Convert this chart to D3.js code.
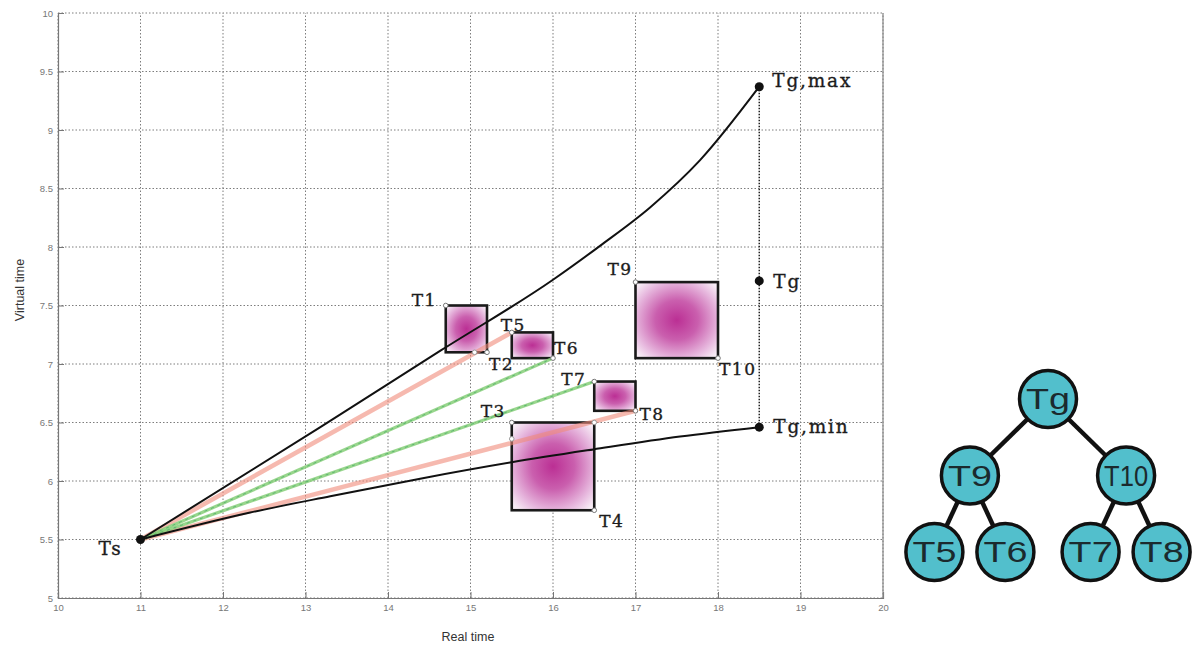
<!DOCTYPE html>
<html>
<head>
<meta charset="utf-8">
<script src="https://cdn.jsdelivr.net/npm/d3@7"></script>
<style>
  html, body { margin: 0; padding: 0; background: #ffffff; }
  svg { display: block; }
</style>
</head>
<body>
<svg id="chart" width="1195" height="648"></svg>
<script>
// ---- data ----
const xTicks = [10, 11, 12, 13, 14, 15, 16, 17, 18, 19, 20];
const yTicks = [5, 5.5, 6, 6.5, 7, 7.5, 8, 8.5, 9, 9.5, 10];
const yTickLabels = ["5", "5.5", "6", "6.5", "7", "7.5", "8", "8.5", "9", "9.5", "10"];

// upper bound trajectory Ts -> Tg,max and lower bound Ts -> Tg,min
const upperBound = [[11, 5.5], [13.18, 6.46], [14.65, 7.12], [16.0, 7.72], [16.57, 8.01], [17.18, 8.34], [17.78, 8.74], [18.5, 9.37]];
const lowerBound = [[11, 5.5], [12.33, 5.73], [13.3, 5.87], [14.39, 6.02], [15.5, 6.16], [16.49, 6.27], [17.54, 6.38], [18.5, 6.46]];

// task windows: [xMin, xMax, yMin, yMax]
const taskBoxes = [
  [14.7, 15.2, 7.1, 7.5],
  [15.5, 16.0, 7.05, 7.27],
  [16.5, 17.0, 6.6, 6.85],
  [15.5, 16.5, 5.75, 6.5],
  [17.0, 18.0, 7.05, 7.7]
];

// named corner points of the windows
const cornerNames = ["T1", "T2", "T5", "T6", "T7", "T8", "T3", "T4", "T9", "T10"];
const cornerX =     [14.7, 15.2, 15.5, 16.0, 16.5, 17.0, 15.5, 16.5, 17.0, 18.0];
const cornerY =     [7.5,  7.1,  7.27, 7.05, 6.85, 6.6,  6.5,  5.75, 7.7,  7.05];

// extra crossing markers on window edges
const crossX = [15.05, 15.5, 16.5];
const crossY = [7.1, 6.36, 6.5];

// start / goal points
const keyNames = ["Ts", "Tg,max", "Tg", "Tg,min"];
const keyX = [11, 18.5, 18.5, 18.5];
const keyY = [5.5, 9.37, 7.71, 6.46];

// rays from Ts to corners
const redTargets = ["T5", "T8"];
const greenTargets = ["T6", "T7"];

// schedule tree
const treeIds =     ["Tg", "T9", "T10", "T5", "T6", "T7", "T8"];
const treeParents = [null, "Tg", "Tg", "T9", "T9", "T10", "T10"];

// ---- drawing ----
const svg = d3.select("#chart");
const x = d3.scaleLinear().domain([10, 20]).range([58, 883]);
const y = d3.scaleLinear().domain([5, 10]).range([598, 13]);

// radial fill for the windows
const defs = svg.append("defs");
const grad = defs.append("radialGradient").attr("id", "winFill")
  .attr("cx", "50%").attr("cy", "50%").attr("r", "65%");
grad.append("stop").attr("offset", "0%").attr("stop-color", "#bb2f94");
grad.append("stop").attr("offset", "40%").attr("stop-color", "#ca5fae");
grad.append("stop").attr("offset", "80%").attr("stop-color", "#e8bce0");
grad.append("stop").attr("offset", "100%").attr("stop-color", "#f7ecf5");

const plot = svg.append("g");

// grid
plot.append("g").selectAll("line").data(xTicks).join("line")
  .attr("x1", d => x(d)).attr("x2", d => x(d))
  .attr("y1", y(5)).attr("y2", y(10))
  .attr("stroke", "#7d7d7d").attr("stroke-width", 1)
  .attr("stroke-dasharray", "1.5,2");
plot.append("g").selectAll("line").data(yTicks).join("line")
  .attr("x1", x(10)).attr("x2", x(20))
  .attr("y1", d => y(d)).attr("y2", d => y(d))
  .attr("stroke", "#7d7d7d").attr("stroke-width", 1)
  .attr("stroke-dasharray", "1.5,2");

// axes
const xAxis = d3.axisBottom(x).tickValues(xTicks).tickSize(-6).tickPadding(6).tickFormat(d3.format("d"));
const yAxis = d3.axisLeft(y).tickValues(yTicks).tickSize(-6).tickPadding(5).tickFormat((d, i) => yTickLabels[i]);
const gx = plot.append("g").attr("transform", `translate(0,${y(5)})`).call(xAxis);
const gy = plot.append("g").attr("transform", `translate(${x(10)},0)`).call(yAxis);
[gx, gy].forEach(g => {
  g.select(".domain").attr("stroke", "#777").attr("stroke-width", 1.2);
  g.selectAll(".tick line").attr("stroke", "#777");
  g.selectAll(".tick text").attr("fill", "#777").attr("font-size", 9.5)
    .attr("font-family", "Liberation Sans, Arial, sans-serif");
});
// right frame edge
plot.append("line").attr("x1", x(20)).attr("x2", x(20)).attr("y1", y(5)).attr("y2", y(10))
  .attr("stroke", "#888").attr("stroke-width", 1.2);

plot.append("text").attr("x", 468).attr("y", 641).attr("text-anchor", "middle")
  .attr("font-family", "Liberation Sans, Arial, sans-serif").attr("font-size", 12.5).attr("fill", "#333")
  .text("Real time");
plot.append("text").attr("transform", "translate(24,290) rotate(-90)").attr("text-anchor", "middle")
  .attr("font-family", "Liberation Sans, Arial, sans-serif").attr("font-size", 12.5).attr("fill", "#333")
  .text("Virtual time");

// windows
plot.append("g").selectAll("rect").data(taskBoxes).join("rect")
  .attr("x", d => x(d[0])).attr("y", d => y(d[3]))
  .attr("width", d => x(d[1]) - x(d[0])).attr("height", d => y(d[2]) - y(d[3]))
  .attr("fill", "url(#winFill)").attr("stroke", "#1a1a1a").attr("stroke-width", 2.6);

// rays from Ts
const corner = name => { const i = cornerNames.indexOf(name); return [cornerX[i], cornerY[i]]; };
const ray = plot.append("g");
redTargets.forEach(n => {
  const c = corner(n);
  ray.append("line").attr("x1", x(keyX[0])).attr("y1", y(keyY[0])).attr("x2", x(c[0])).attr("y2", y(c[1]))
    .attr("stroke", "#f08a7a").attr("stroke-width", 4.5).attr("stroke-opacity", 0.6).attr("stroke-linecap", "round");
});
greenTargets.forEach(n => {
  const c = corner(n);
  ray.append("line").attr("x1", x(keyX[0])).attr("y1", y(keyY[0])).attr("x2", x(c[0])).attr("y2", y(c[1]))
    .attr("stroke", "#86cf78").attr("stroke-width", 3.2).attr("stroke-opacity", 0.85);
  ray.append("line").attr("x1", x(keyX[0])).attr("y1", y(keyY[0])).attr("x2", x(c[0])).attr("y2", y(c[1]))
    .attr("stroke", "#2e9a5c").attr("stroke-width", 1).attr("stroke-dasharray", "3,4").attr("stroke-opacity", 0.55);
});

// bounds
const line = d3.line().x(d => x(d[0])).y(d => y(d[1])).curve(d3.curveMonotoneX);
plot.append("path").datum(upperBound).attr("d", line)
  .attr("fill", "none").attr("stroke", "#111").attr("stroke-width", 2);
plot.append("path").datum(lowerBound).attr("d", line)
  .attr("fill", "none").attr("stroke", "#111").attr("stroke-width", 2);

// dotted range at the goal
plot.append("line").attr("x1", x(keyX[1])).attr("x2", x(keyX[3]))
  .attr("y1", y(keyY[1])).attr("y2", y(keyY[3]))
  .attr("stroke", "#222").attr("stroke-width", 1.5).attr("stroke-dasharray", "1.5,1.5");

// corner markers
plot.append("g").selectAll("circle").data(cornerNames).join("circle")
  .attr("cx", (d, i) => x(cornerX[i])).attr("cy", (d, i) => y(cornerY[i])).attr("r", 2.3)
  .attr("fill", "#fff").attr("stroke", "#777").attr("stroke-width", 1);
plot.append("g").selectAll("circle").data(crossX).join("circle")
  .attr("cx", (d, i) => x(d)).attr("cy", (d, i) => y(crossY[i])).attr("r", 2.3)
  .attr("fill", "#fff").attr("stroke", "#999").attr("stroke-width", 1);

// key points
plot.append("g").selectAll("circle").data(keyNames).join("circle")
  .attr("cx", (d, i) => x(keyX[i])).attr("cy", (d, i) => y(keyY[i])).attr("r", 4.5)
  .attr("fill", "#111");

// labels (serif, placed around the marker they name)
const labelOffset = {
  T1: [-34, 0], T2: [2, 18], T5: [-11, -1], T6: [1, -4], T7: [-33, 3], T8: [4, 9],
  T3: [-31, -6], T4: [5, 17], T9: [-28, -7], T10: [1, 17],
  "Ts": [-42, 15], "Tg,max": [13, 0], "Tg": [14, 7], "Tg,min": [14, 6]
};
const labels = plot.append("g")
  .attr("font-family", "DejaVu Serif, Liberation Serif, serif")
  .attr("fill", "#1c1c1c").attr("stroke", "#1c1c1c").attr("stroke-width", 0.35);
cornerNames.forEach((n, i) => {
  const o = labelOffset[n];
  labels.append("text").attr("x", x(cornerX[i]) + o[0]).attr("y", y(cornerY[i]) + o[1])
    .attr("font-size", 17).attr("letter-spacing", 1.5).text(n);
});
keyNames.forEach((n, i) => {
  const o = labelOffset[n];
  labels.append("text").attr("x", x(keyX[i]) + o[0]).attr("y", y(keyY[i]) + o[1])
    .attr("font-size", 18.5).attr("letter-spacing", 1.8).text(n);
});

// ---- schedule tree ----
const root = d3.stratify().id(d => d).parentId((d, i) => treeParents[i])(treeIds);
d3.tree().nodeSize([71, 76.5]).separation((a, b) => a.parent === b.parent ? 1 : 1.2)(root);
const tree = svg.append("g").attr("transform", "translate(1048,399)");
tree.selectAll("line").data(root.links()).join("line")
  .attr("x1", d => d.source.x).attr("y1", d => d.source.y)
  .attr("x2", d => d.target.x).attr("y2", d => d.target.y)
  .attr("stroke", "#111").attr("stroke-width", 4.5);
const nodes = tree.selectAll("g.node").data(root.descendants()).join("g")
  .attr("class", "node").attr("transform", d => `translate(${d.x},${d.y})`);
nodes.append("circle").attr("r", 28.5).attr("fill", "#52bfcc").attr("stroke", "#111").attr("stroke-width", 3.5);
nodes.append("text").attr("text-anchor", "middle").attr("dy", "0.36em")
  .attr("font-family", "Liberation Sans, Arial, sans-serif")
  .attr("font-size", 29).attr("fill", "#1b2a2e")
  .attr("textLength", 44).attr("lengthAdjust", "spacingAndGlyphs")
  .text(d => d.id);
</script>
</body>
</html>
